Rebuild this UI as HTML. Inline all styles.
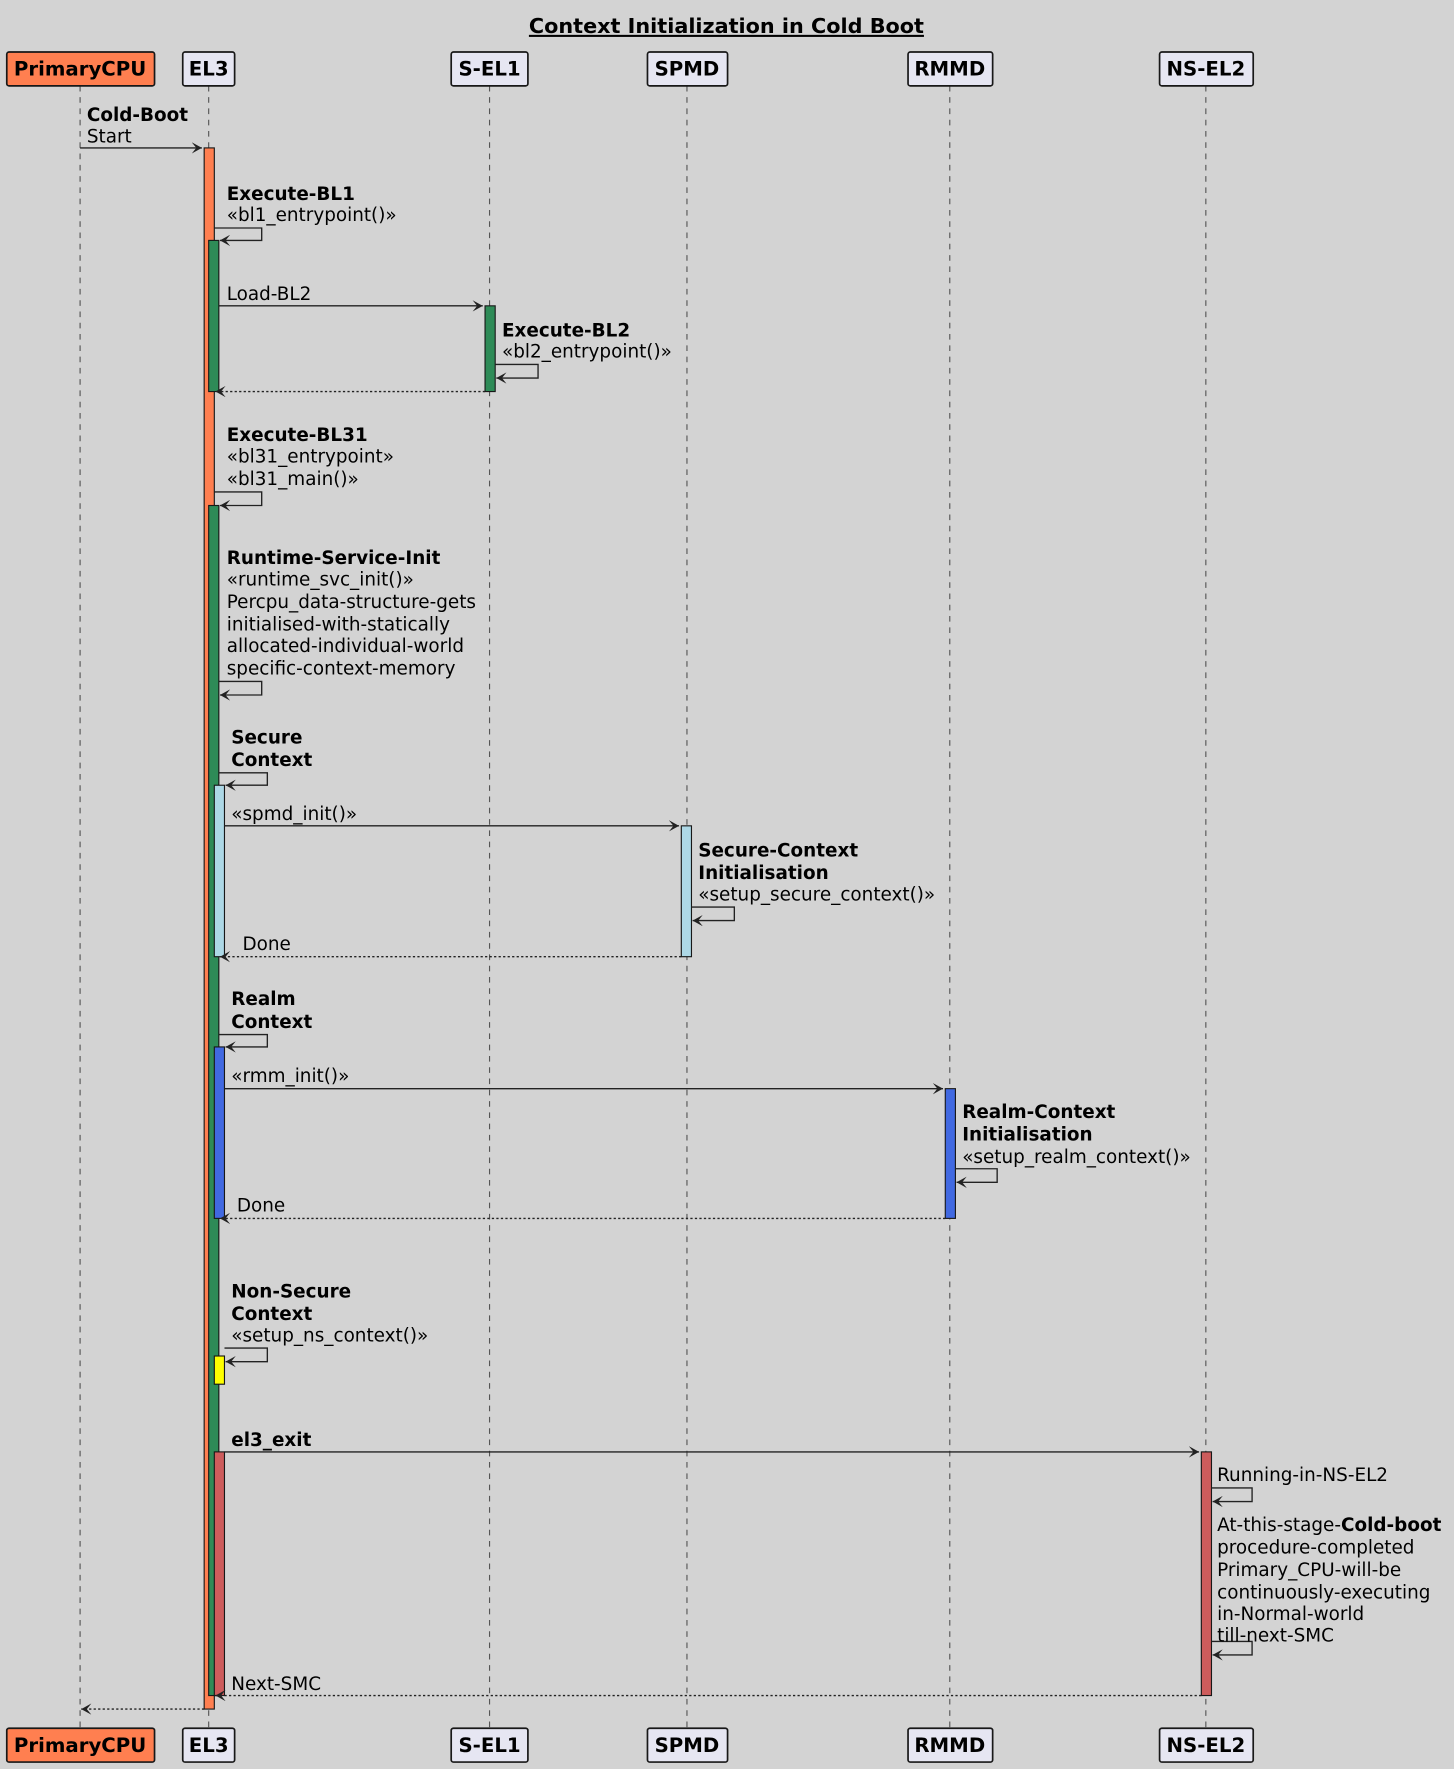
<!DOCTYPE html>
<html><head><meta charset="utf-8"><style>
html,body{margin:0;padding:0;background:#d3d3d3;}
svg{display:block}
text{font-family:"DejaVu Sans","Liberation Sans",sans-serif;font-size:16.3px;fill:#000}
.b{font-weight:bold}
.p{font-weight:bold;font-size:17.5px}
</style></head><body>
<svg width="1454" height="1769" viewBox="0 0 1289 1568" xmlns="http://www.w3.org/2000/svg">
<defs><marker id="a" markerWidth="10" markerHeight="10" refX="9" refY="5" orient="auto" markerUnits="userSpaceOnUse"><path d="M0,0 L9,5 L0,10 L4,5 Z" fill="#222"/></marker></defs>
<rect width="1289" height="1568" fill="#d3d3d3"/>
<text x="644" y="29" text-anchor="middle" class="b" style="font-size:18.4px;text-decoration:underline">Context Initialization in Cold Boot</text>
<g stroke="#555" stroke-dasharray="5,5" stroke-width="1">
<line x1="71" y1="76" x2="71" y2="1532"/><line x1="185" y1="76" x2="185" y2="1532"/><line x1="434" y1="76" x2="434" y2="1532"/><line x1="609" y1="76" x2="609" y2="1532"/><line x1="842" y1="76" x2="842" y2="1532"/><line x1="1069" y1="76" x2="1069" y2="1532"/>
</g>
<g stroke="#181818" stroke-width="1.5">
<rect x="6" y="46" width="131" height="30" rx="2" fill="#ff7f50"/><rect x="162" y="46" width="46" height="30" rx="2" fill="#e6e6f2"/><rect x="400" y="46" width="68" height="30" rx="2" fill="#e6e6f2"/><rect x="574" y="46" width="71" height="30" rx="2" fill="#e6e6f2"/><rect x="805" y="46" width="75" height="30" rx="2" fill="#e6e6f2"/><rect x="1028" y="46" width="83" height="30" rx="2" fill="#e6e6f2"/>
<rect x="6" y="1532" width="131" height="30" rx="2" fill="#ff7f50"/><rect x="162" y="1532" width="46" height="30" rx="2" fill="#e6e6f2"/><rect x="400" y="1532" width="68" height="30" rx="2" fill="#e6e6f2"/><rect x="574" y="1532" width="71" height="30" rx="2" fill="#e6e6f2"/><rect x="805" y="1532" width="75" height="30" rx="2" fill="#e6e6f2"/><rect x="1028" y="1532" width="83" height="30" rx="2" fill="#e6e6f2"/>
</g>
<g text-anchor="middle">
<text class="p" x="71" y="67">PrimaryCPU</text><text class="p" x="185" y="67">EL3</text><text class="p" x="434" y="67">S-EL1</text><text class="p" x="609" y="67">SPMD</text><text class="p" x="842" y="67">RMMD</text><text class="p" x="1069" y="67">NS-EL2</text>
<text class="p" x="71" y="1553">PrimaryCPU</text><text class="p" x="185" y="1553">EL3</text><text class="p" x="434" y="1553">S-EL1</text><text class="p" x="609" y="1553">SPMD</text><text class="p" x="842" y="1553">RMMD</text><text class="p" x="1069" y="1553">NS-EL2</text>
</g>
<g stroke="#181818" stroke-width="1">
<rect x="181" y="131" width="9" height="1384" fill="#ff7f50"/>
<rect x="185" y="213" width="9" height="134" fill="#2e8b57"/>
<rect x="430" y="271" width="9" height="76" fill="#2e8b57"/>
<rect x="185" y="448" width="9" height="1055" fill="#2e8b57"/>
<rect x="190" y="696" width="9" height="152" fill="#add8e6"/>
<rect x="604" y="732" width="9" height="116" fill="#add8e6"/>
<rect x="190" y="928" width="9" height="152" fill="#4169e1"/>
<rect x="838" y="965" width="9" height="115" fill="#4169e1"/>
<rect x="190" y="1202" width="9" height="25" fill="#ffff00"/>
<rect x="190" y="1287" width="9" height="216" fill="#cd5c5c"/>
<rect x="1065" y="1287" width="9" height="216" fill="#cd5c5c"/>
</g>
<g stroke="#222" stroke-width="1.2" fill="none" marker-end="url(#a)">
<line x1="71" y1="131" x2="179" y2="131"/>
<polyline points="190,202 232,202 232,213 195,213"/>
<line x1="194" y1="271" x2="428" y2="271"/>
<polyline points="439,323 477,323 477,335 440,335"/>
<line x1="430" y1="347" x2="191" y2="347" stroke-dasharray="2,2"/>
<polyline points="190,436 232,436 232,448 195,448"/>
<polyline points="194,604 232,604 232,616 195,616"/>
<polyline points="194,685 237,685 237,696 200,696"/>
<line x1="199" y1="732" x2="602" y2="732"/>
<polyline points="613,804 651,804 651,816 614,816"/>
<line x1="604" y1="848" x2="195" y2="848" stroke-dasharray="2,2"/>
<polyline points="194,917 237,917 237,928 200,928"/>
<line x1="199" y1="965" x2="836" y2="965"/>
<polyline points="847,1036 884,1036 884,1048 848,1048"/>
<line x1="838" y1="1080" x2="195" y2="1080" stroke-dasharray="2,2"/>
<polyline points="199,1195 237,1195 237,1207 200,1207"/>
<line x1="199" y1="1287" x2="1063" y2="1287"/>
<polyline points="1074,1319 1110,1319 1110,1331 1075,1331"/>
<polyline points="1074,1455 1110,1455 1110,1467 1075,1467"/>
<line x1="1065" y1="1503" x2="191" y2="1503" stroke-dasharray="2,2"/>
<line x1="181" y1="1515" x2="72" y2="1515" stroke-dasharray="2,2"/>
</g>
<text x="77" y="107" class="b">Cold-Boot</text>
<text x="77" y="126">Start</text>
<text x="201" y="177" class="b">Execute-BL1</text><text x="201" y="196">«bl1_entrypoint()»</text>
<text x="201" y="266">Load-BL2</text>
<text x="445" y="298" class="b">Execute-BL2</text><text x="445" y="317">«bl2_entrypoint()»</text>
<text x="201" y="391" class="b">Execute-BL31</text><text x="201" y="410">«bl31_entrypoint»</text><text x="201" y="430">«bl31_main()»</text>
<text x="201" y="500" class="b">Runtime-Service-Init</text><text x="201" y="519">«runtime_svc_init()»</text><text x="201" y="539">Percpu_data-structure-gets</text><text x="201" y="559">initialised-with-statically</text><text x="201" y="578">allocated-individual-world</text><text x="201" y="598">specific-context-memory</text>
<text x="205" y="659" class="b">Secure</text><text x="205" y="679" class="b">Context</text>
<text x="205" y="727">«spmd_init()»</text>
<text x="619" y="759" class="b">Secure-Context</text><text x="619" y="779" class="b">Initialisation</text><text x="619" y="798">«setup_secure_context()»</text>
<text x="215" y="842">Done</text>
<text x="205" y="891" class="b">Realm</text><text x="205" y="911" class="b">Context</text>
<text x="205" y="959">«rmm_init()»</text>
<text x="853" y="991" class="b">Realm-Context</text><text x="853" y="1011" class="b">Initialisation</text><text x="853" y="1031">«setup_realm_context()»</text>
<text x="210" y="1074">Done</text>
<text x="205" y="1150" class="b">Non-Secure</text><text x="205" y="1170" class="b">Context</text><text x="205" y="1189">«setup_ns_context()»</text>
<text x="205" y="1282" class="b">el3_exit</text>
<text x="1079" y="1313">Running-in-NS-EL2</text>
<text x="1079" y="1357">At-this-stage-<tspan class="b">Cold-boot</tspan></text><text x="1079" y="1377">procedure-completed</text><text x="1079" y="1397">Primary_CPU-will-be</text><text x="1079" y="1417">continuously-executing</text><text x="1079" y="1436">in-Normal-world</text><text x="1079" y="1455">till-next-SMC</text>
<text x="205" y="1498">Next-SMC</text>
</svg>
</body></html>
